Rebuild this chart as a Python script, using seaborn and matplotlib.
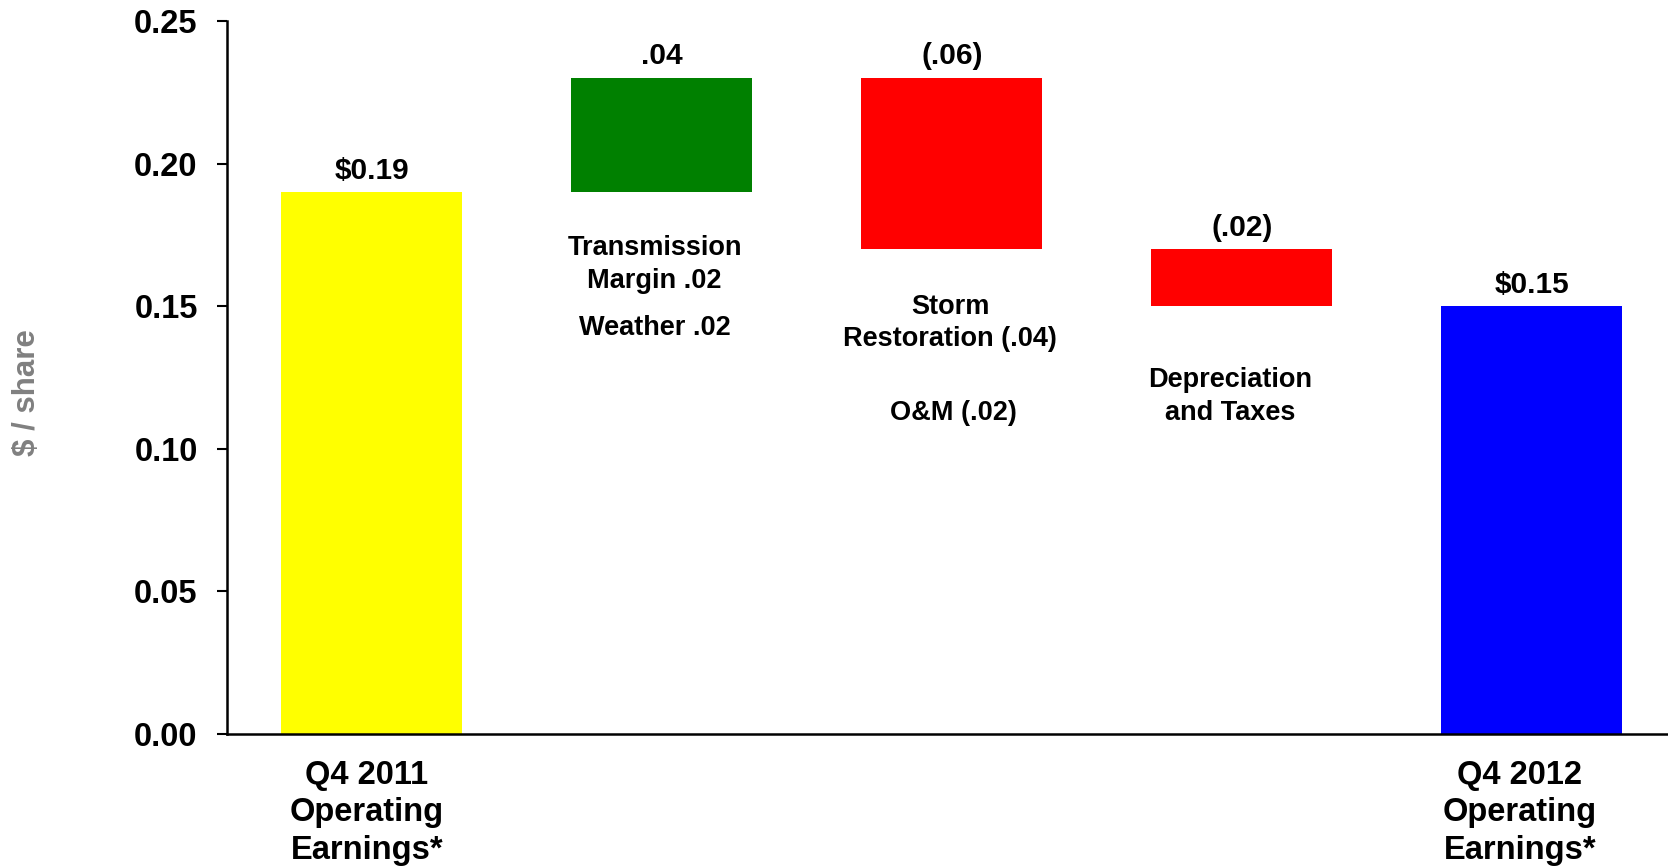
import matplotlib
matplotlib.use("Agg")
import matplotlib.pyplot as plt
import seaborn as sns
import numpy as np

# ---- data ----
steps = ["Q4 2011", "Transmission & Weather", "Storm & O&M", "Depreciation & Taxes", "Q4 2012"]
bottoms = [0.0, 0.19, 0.17, 0.15, 0.0]
heights = [0.19, 0.04, 0.06, 0.02, 0.15]
bar_colors = ["#FFFF00", "#008000", "#FF0000", "#FF0000", "#0000FF"]
bar_labels = ["$0.19", ".04", "(.06)", "(.02)", "$0.15"]
tick_labels = ["Q4 2011\nOperating\nEarnings*", "", "", "", "Q4 2012\nOperating\nEarnings*"]
yticks = [0.00, 0.05, 0.10, 0.15, 0.20, 0.25]
notes = ["Transmission\nMargin .02", "Weather .02", "Storm\nRestoration (.04)", "O&M (.02)", "Depreciation\nand Taxes"]
note_x = [0.975, 0.975, 1.995, 2.005, 2.96]
note_y = [0.1646, 0.1422, 0.1440, 0.1127, 0.1183]
label_shift = [-0.017, 0, 0, 0, -0.041]

sns.set_style("white")
plt.rcParams["font.family"] = ["Liberation Sans", "DejaVu Sans"]
plt.rcParams["font.weight"] = "bold"
plt.rcParams["text.color"] = "black"
plt.rcParams["xtick.color"] = "black"
plt.rcParams["ytick.color"] = "black"
plt.rcParams["xtick.labelcolor"] = "black"
plt.rcParams["ytick.labelcolor"] = "black"

fig = plt.figure(figsize=(16.68, 8.66), dpi=100)
ax = fig.add_axes([0.136, 0.1524, 0.864, 0.8234])

sns.barplot(x=steps, y=heights, bottom=bottoms, order=steps, color="#FFFF00",
            errorbar=None, width=0.625, linewidth=0, ax=ax)
for p, c in zip(ax.patches, bar_colors):
    p.set_facecolor(c)
    p.set_edgecolor("none")

for i, (b, h, lab) in enumerate(zip(bottoms, heights, bar_labels)):
    ax.annotate(lab, xy=(i, b + h), xytext=(0, 15.5), textcoords="offset points",
                ha="center", va="center", fontsize=21.5, fontweight="bold", color="black")

for t, x, y in zip(notes, note_x, note_y):
    ax.text(x, y, t, ha="center", va="center", fontsize=19.5, fontweight="bold",
            linespacing=1.32, color="black")

ax.set_xlim(-0.5, 4.47)
ax.set_ylim(0, 0.25)
ax.set_yticks(yticks)
ax.set_yticklabels([f"{v:.2f}" for v in yticks], fontsize=23.5, fontweight="bold", color="black")
ax.set_xticks([i + s for i, s in enumerate(label_shift)])
ax.set_xticklabels(tick_labels, fontsize=23.5, fontweight="bold", linespacing=1.27, color="black")
ax.tick_params(axis="x", length=0, pad=18.5)
ax.tick_params(axis="y", length=7, width=1.5, direction="out", pad=14, left=True, color="black")

sns.despine(ax=ax, top=True, right=True)
for s in ["left", "bottom"]:
    ax.spines[s].set_color("black")
    ax.spines[s].set_linewidth(1.8)
ax.set_xlabel("")
ax.set_ylabel("")

fig.text(27 / 1668, 1 - 393 / 866, "$ / share", rotation=90, ha="center", va="center",
         fontsize=22.5, fontweight="bold", color="#808080")

fig.savefig("out.png", dpi=100)
